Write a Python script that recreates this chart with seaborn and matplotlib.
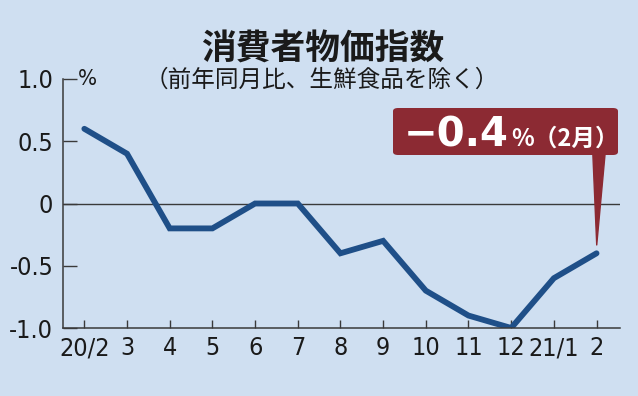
import numpy as np
import pandas as pd
import matplotlib
matplotlib.use('Agg')
import matplotlib.pyplot as plt
import seaborn as sns
from matplotlib.patches import FancyBboxPatch

# データ（前年同月比、%）
months = ['20/2', '3', '4', '5', '6', '7', '8', '9', '10', '11', '12', '21/1', '2']
cpi = [0.6, 0.4, -0.2, -0.2, 0.0, 0.0, -0.4, -0.3, -0.7, -0.9, -1.0, -0.6, -0.4]
y_ticks = [1.0, 0.5, 0.0, -0.5, -1.0]
y_labels = ['1.0', '0.5', '0', '-0.5', '-1.0']

bg = '#cfdff1'
line_col = '#1f4f88'
red = '#8c2a33'
axis_col = '#3a3a3a'
txt_col = '#1a1a1a'

sns.set_theme(style='ticks')
plt.rcParams['font.family'] = ['DejaVu Sans']

df = pd.DataFrame({'pos': np.arange(len(months)), 'cpi': cpi})

fig = plt.figure(figsize=(6.38, 3.96), dpi=100, facecolor=bg)
ax = fig.add_axes([63 / 638, 68 / 396, 557 / 638, 249 / 396])
ax.set_facecolor(bg)

sns.lineplot(data=df, x='pos', y='cpi', ax=ax, color=line_col, linewidth=4.2,
             solid_capstyle='round', solid_joinstyle='miter')
ax.axhline(0, color=axis_col, lw=1.0, zorder=1)

ax.set_xlim(-0.5, len(months) - 0.45)
ax.set_ylim(-1.0, 1.0)
ax.set_xticks(df['pos'])
ax.set_xticklabels(months)
ax.set_yticks(y_ticks)
ax.set_yticklabels(y_labels)
ax.set_xlabel('')
ax.set_ylabel('')

for s in ['top', 'right']:
    ax.spines[s].set_visible(False)
for s in ['left', 'bottom']:
    ax.spines[s].set_color(axis_col)
    ax.spines[s].set_linewidth(1.1)
ax.tick_params(axis='y', direction='in', length=10, width=1, color=axis_col,
               labelsize=18, pad=7, labelcolor=txt_col)
ax.tick_params(axis='x', direction='in', length=6, width=1, color=axis_col,
               labelsize=18, pad=6, labelcolor=txt_col)
for lbl in ax.get_xticklabels() + ax.get_yticklabels():
    lbl.set_fontstretch('condensed')

ax.text(15 / 557, 1.0, '%', transform=ax.transAxes, fontsize=16, fontstretch='condensed',
        va='center', ha='left', color=txt_col)

# タイトル
jp = ['Noto Sans CJK JP', 'DejaVu Sans']
fig.text(0.506, 0.877, '消費者物価指数', family=jp, fontsize=25,
         fontweight='bold', ha='center', va='center', color=txt_col)
fig.text(0.505, 0.798, '（前年同月比、生鮮食品を除く）', family=jp, fontsize=17,
         ha='center', va='center', color=txt_col)

# 吹き出し
box = FancyBboxPatch((393 / 638, (396 - 155) / 396), 225 / 638, 47 / 396,
                     boxstyle='round,pad=0,rounding_size=0.008',
                     transform=fig.transFigure, facecolor=red, edgecolor='none',
                     zorder=5)
fig.patches.append(box)
ax.annotate('', xy=(df['pos'].iloc[-1], cpi[-1]), xycoords='data',
            xytext=(599 / 638, (396 - 152) / 396), textcoords='figure fraction',
            arrowprops=dict(arrowstyle='wedge,tail_width=0.5', color=red,
                            shrinkA=0, shrinkB=6, mutation_scale=18),
            annotation_clip=False, zorder=4)
t1 = fig.text(404 / 638, (396 - 146) / 396, '−0.4', family=['DejaVu Sans'],
              fontsize=29, fontweight='bold', color='white', ha='left', va='baseline',
              zorder=6)
fig.canvas.draw()
ext = t1.get_window_extent()
fig.text(ext.x1 / fig.bbox.width + 0.003, (396 - 146) / 396, '%（2月）', family=jp,
         fontsize=17, fontweight='bold', color='white', ha='left', va='baseline', zorder=6)

fig.savefig('out.png', dpi=100, facecolor=bg)
